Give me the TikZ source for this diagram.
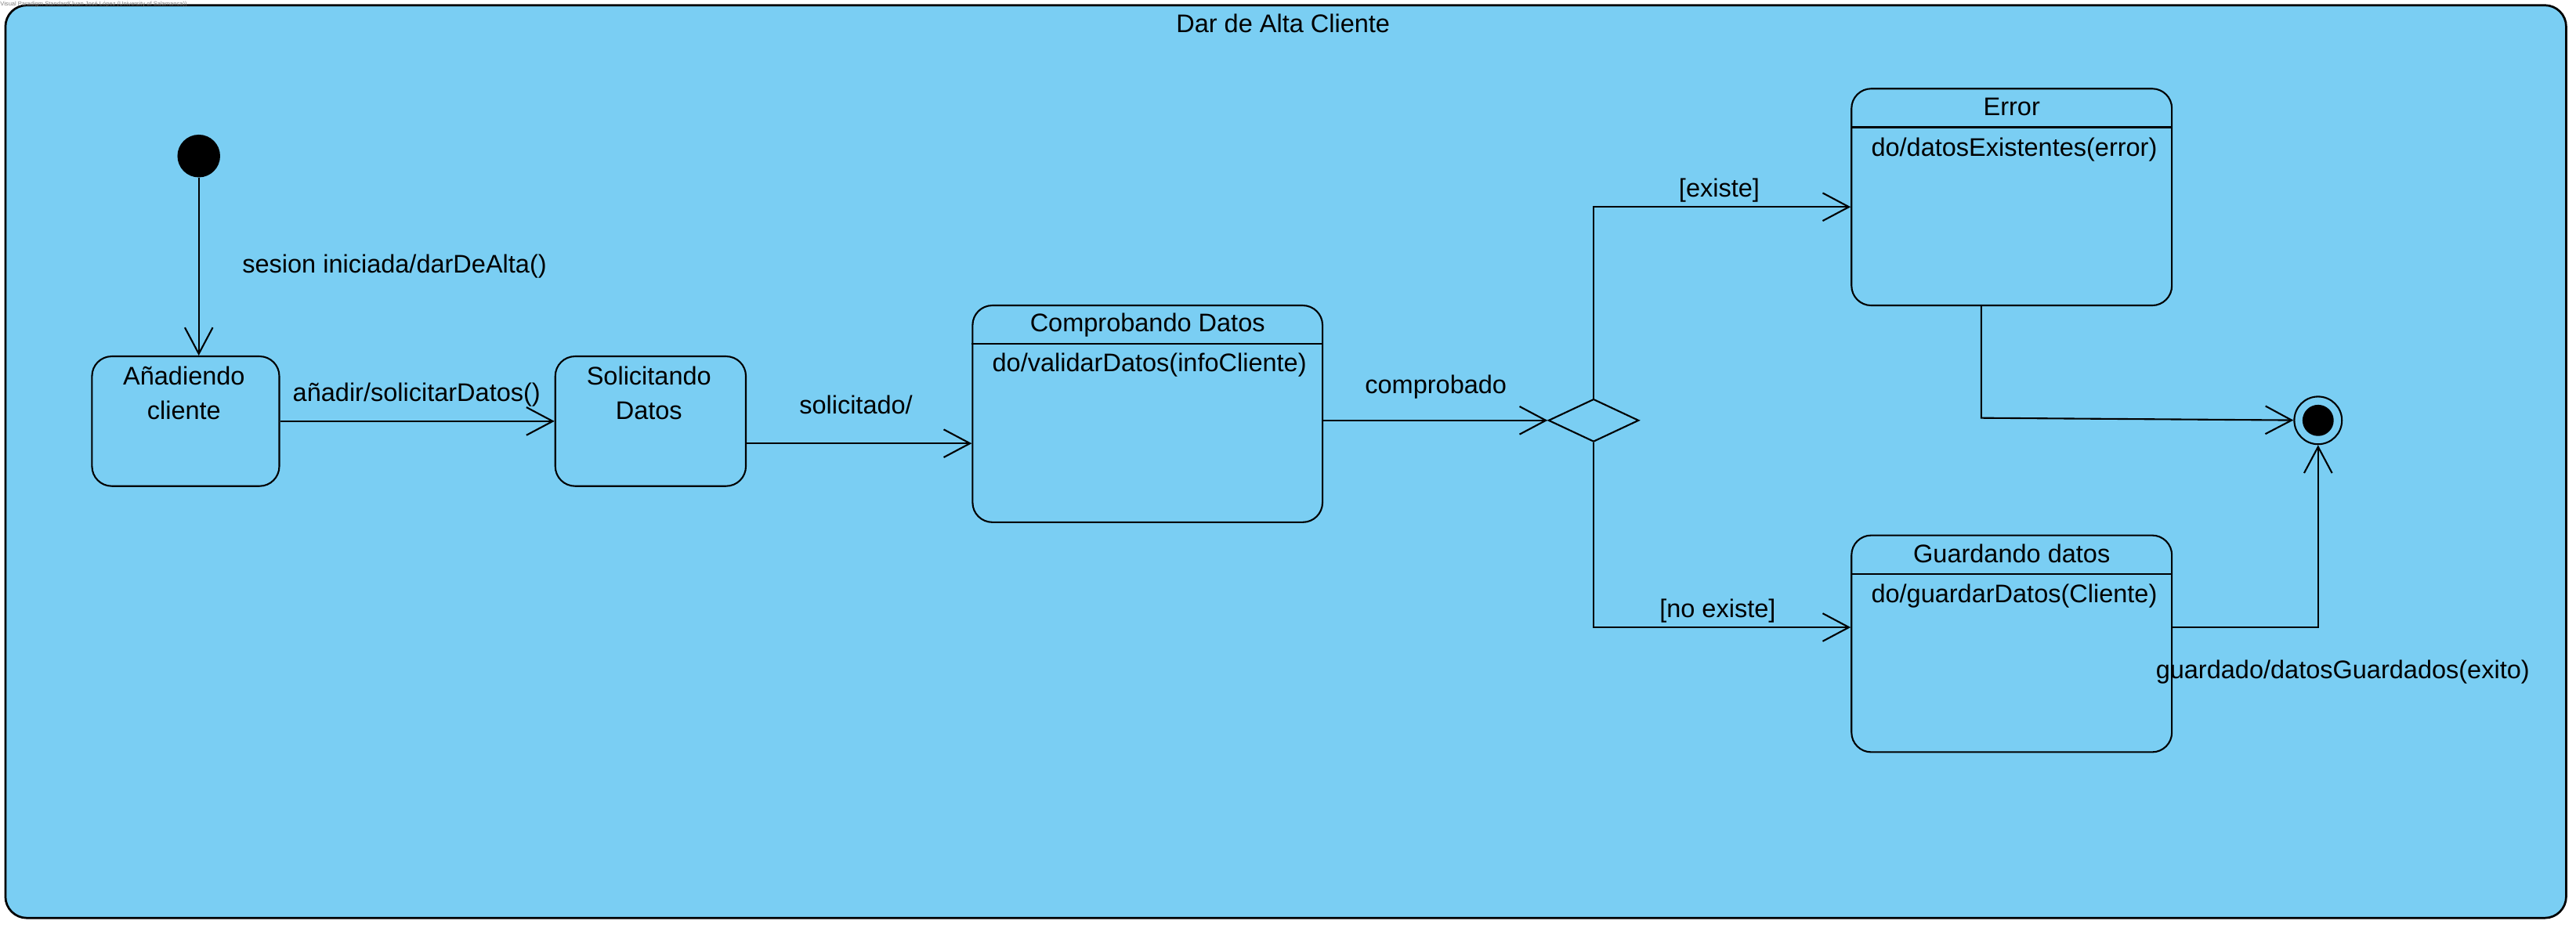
\documentclass[tikz,border=0pt]{standalone}
\usepackage{fontspec}
\setmainfont{Liberation Sans}
\usetikzlibrary{arrows.meta,shapes.geometric}
\definecolor{vpblue}{RGB}{122,206,243}

\begin{document}
\begin{tikzpicture}[x=1pt,y=-1pt,font=\fontsize{15.5}{21}\selectfont,
        >={Straight Barb[length=16pt,width=17pt]},
        state/.style={draw,line width=1pt,fill=vpblue,rounded corners=12pt,inner sep=0pt},
        trans/.style={line width=1pt,->}]
        \useasboundingbox (0,0) rectangle (1568,565.1);
        \draw[line width=1.3pt,fill=vpblue,rounded corners=13pt] (3.3,3.2) rectangle (1562,559);
        \node[anchor=north west,inner sep=0pt,text=gray,font=\fontsize{3.6}{4}\selectfont] (wm) at (0,0.5) {Visual Paradigm Standard(Juan José López (University of Salamanca))};
        \node[anchor=base] (title) at (781,20) {Dar de Alta Cliente};

        \node[circle,fill=black,minimum size=26pt,inner sep=0pt] (ini) at (121,95) {};
        \node[state,minimum width=114,minimum height=79] (anad) at (113,256.5) {};
        \node[anchor=base] (anadA) at (112,234.6) {Añadiendo};
        \node[anchor=base] (anadB) at (112,255.5) {cliente};
        \node[state,minimum width=116,minimum height=79] (solic) at (396,256.5) {};
        \node[anchor=base] (solicA) at (395,234.6) {Solicitando};
        \node[anchor=base] (solicB) at (395,255.5) {Datos};

        \node[state,minimum width=213,minimum height=132] (compr) at (698.5,252) {};
        \draw[line width=1pt] ([yshift=-24]compr.north west) -- ([yshift=-24]compr.north east);
        \node[anchor=base] (comprT) at ([yshift=-16.5]compr.north) {Comprobando Datos};
        \node[anchor=base west] (comprD) at ([xshift=9,yshift=-41]compr.north west) {do/validarDatos(infoCliente)};

        \node[diamond,draw,line width=1pt,fill=vpblue,minimum width=55,minimum height=26,inner sep=0pt] (dec) at (970,256) {};

        \node[state,minimum width=195,minimum height=132] (err) at (1224.5,120) {};
        \draw[line width=1pt] ([yshift=-24]err.north west) -- ([yshift=-24]err.north east);
        \node[anchor=base] (errT) at ([yshift=-17]err.north) {Error};
        \node[anchor=base west] (errD) at ([xshift=9,yshift=-41.5]err.north west) {do/datosExistentes(error)};

        \node[state,minimum width=195,minimum height=132] (guard) at (1224.5,392) {};
        \draw[line width=1pt] ([yshift=-24]guard.north west) -- ([yshift=-24]guard.north east);
        \node[anchor=base] (guardT) at ([yshift=-17]guard.north) {Guardando datos};
        \node[anchor=base west] (guardD) at ([xshift=9,yshift=-41.5]guard.north west) {do/guardarDatos(Cliente)};

        \node[circle,draw,line width=1pt,fill=vpblue,minimum size=29pt,inner sep=0pt] (fin) at (1411,256) {};
        \node[circle,fill=black,minimum size=19pt,inner sep=0pt] (finB) at (fin) {};

        \draw[trans] (ini) -- (ini |- anad.north);
        \draw[trans] (anad) -- (solic);
        \draw[trans] ([yshift=-13.5]solic.east) -- ([yshift=-13.5]solic.east -| compr.west);
        \draw[trans] (compr.east |- dec) -- (dec);
        \draw[trans] (dec.north) |- ([yshift=-6]err.west);
        \draw[trans] (dec.south) |- ([yshift=10]guard.west);
        \draw[trans] ([xshift=-18.5]err.south) -- ++(0,68) -- (fin);
        \draw[trans] ([yshift=10]guard.east) -| (fin);

        \node[anchor=base west] (l1) at (144,166) {sesion iniciada/darDeAlta()};
        \node[anchor=base] (l2) at (253.6,244.4) {añadir/solicitarDatos()};
        \node[anchor=base] (l3) at (521,252) {solicitado/};
        \node[anchor=base] (l4) at (874,239.7) {comprobado};
        \node[anchor=base] (l5) at (1046.5,120) {[existe]};
        \node[anchor=base] (l6) at (1045.5,376) {[no existe]};
        \node[anchor=base] (l7) at (1426,413) {guardado/datosGuardados(exito)};
\end{tikzpicture}
\end{document}
